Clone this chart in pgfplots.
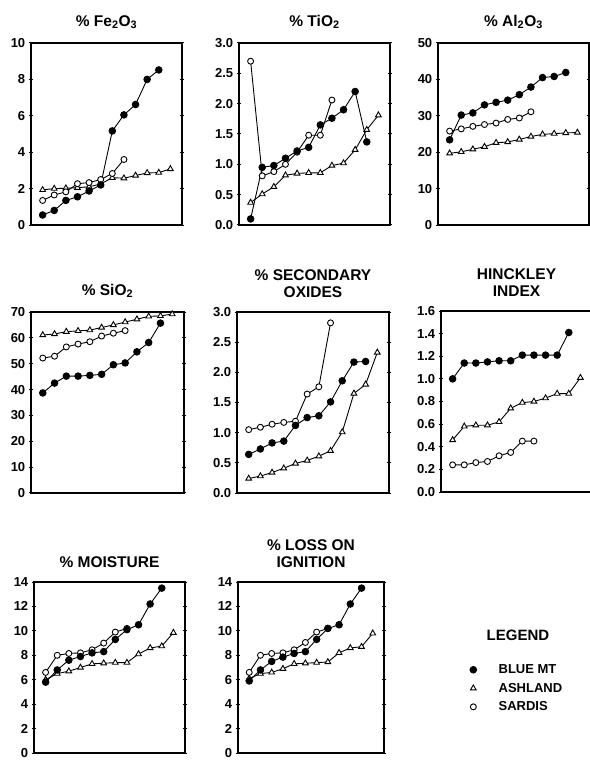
\documentclass[border=0pt]{standalone}
\usepackage{fontspec}
\setmainfont{Liberation Sans}
\usepackage{pgfplots}
\pgfplotsset{compat=1.18}
\pgfplotsset{
  panel/.style={scale only axis, anchor=north west, xmin=0, xmax=13, xtick=\empty, ymin=0,
    axis line style={line width=1.2pt},
    every tick/.style={line width=1pt,black},
    major tick length=4.5pt, tick align=center,
    ytick pos=both, yticklabel pos=left,
    /pgf/number format/assume math mode=true,
    tick label style={font=\bfseries\fontsize{13}{13}\selectfont},
    title style={font=\bfseries\fontsize{15.5}{17.5}\selectfont, align=center, at={(0.5,1)}, anchor=south, inner sep=0pt, yshift=8pt},
    clip=false},
  bm/.style={black, line width=0.9pt, mark=*, mark size=3.3pt, mark options={solid, fill=black}},
  as/.style={black, line width=0.9pt, mark=triangle*, mark size=3.3pt, mark options={solid, fill=white}},
  sa/.style={black, line width=0.9pt, mark=*, mark size=3pt, mark options={solid, fill=white}},
  onedec/.style={yticklabel style={/pgf/number format/fixed,/pgf/number format/fixed zerofill,/pgf/number format/precision=1}},
}
\begin{document}
\begin{tikzpicture}
\path[use as bounding box] (0pt,0pt) rectangle (589pt,-762pt);
% Fe2O3
\begin{axis}[panel, at={(31pt,-43pt)}, width=151pt, height=182pt, ymax=10, ytick={0,2,...,10},
  title={\% Fe\textsubscript{2}O\textsubscript{3}}]
\addplot[as] coordinates {(1,1.93)(2,2.0)(3,2.02)(4,2.05)(5,2.1)(6,2.25)(7,2.6)(8,2.57)(9,2.72)(10,2.86)(11,2.88)(12,3.08)};
\addplot[sa] coordinates {(1,1.35)(2,1.65)(3,1.82)(4,2.27)(5,2.33)(6,2.5)(7,2.83)(8,3.6)};
\addplot[bm] coordinates {(1,0.55)(2,0.8)(3,1.35)(4,1.55)(5,1.87)(6,2.2)(7,5.17)(8,6.05)(9,6.62)(10,8.0)(11,8.52)};
\end{axis}
% TiO2
\begin{axis}[panel, onedec, at={(239pt,-43pt)}, width=151pt, height=182pt, ymax=3, ytick={0,0.5,...,3},
  title={\% TiO\textsubscript{2}}]
\addplot[as] coordinates {(1,0.37)(2,0.51)(3,0.63)(4,0.82)(5,0.85)(6,0.86)(7,0.86)(8,0.98)(9,1.02)(10,1.24)(11,1.57)(12,1.81)};
\addplot[sa] coordinates {(1,2.7)(2,0.81)(3,0.88)(4,1.0)(5,1.2)(6,1.48)(7,1.48)(8,2.06)};
\addplot[bm] coordinates {(1,0.1)(2,0.95)(3,0.98)(4,1.1)(5,1.22)(6,1.28)(7,1.65)(8,1.76)(9,1.9)(10,2.2)(11,1.37)};
\end{axis}
% Al2O3
\begin{axis}[panel, at={(438pt,-43pt)}, width=151pt, height=182pt, ymax=50, ytick={0,10,...,50},
  title={\% Al\textsubscript{2}O\textsubscript{3}}]
\addplot[as] coordinates {(1,19.7)(2,20.1)(3,20.8)(4,21.5)(5,22.6)(6,22.8)(7,23.5)(8,24.3)(9,24.9)(10,25.1)(11,25.3)(12,25.4)};
\addplot[sa] coordinates {(1,25.8)(2,26.4)(3,27.1)(4,27.6)(5,28.0)(6,29.0)(7,29.4)(8,31.1)};
\addplot[bm] coordinates {(1,23.4)(2,30.2)(3,30.8)(4,33.0)(5,33.7)(6,34.3)(7,35.8)(8,37.9)(9,40.5)(10,40.8)(11,41.9)};
\end{axis}
% SiO2
\begin{axis}[panel, at={(31pt,-312pt)}, width=153pt, height=181pt, ymax=70, ytick={0,10,...,70},
  title={\% SiO\textsubscript{2}}]
\addplot[as] coordinates {(1,61.1)(2,61.5)(3,62.4)(4,62.7)(5,63.0)(6,64.0)(7,65.0)(8,66.1)(9,67.2)(10,68.3)(11,68.5)(12,69.2)};
\addplot[sa] coordinates {(1,52.2)(2,52.9)(3,56.5)(4,57.6)(5,58.5)(6,60.7)(7,61.8)(8,62.8)};
\addplot[bm] coordinates {(1,38.7)(2,42.5)(3,45.2)(4,45.2)(5,45.5)(6,45.9)(7,49.6)(8,50.3)(9,54.6)(10,58.2)(11,65.7)};
\end{axis}
% Secondary oxides
\begin{axis}[panel, onedec, at={(237pt,-312pt)}, width=152pt, height=181pt, ymax=3, ytick={0,0.5,...,3},
  title={\% SECONDARY\\OXIDES}]
\addplot[as] coordinates {(1,0.24)(2,0.28)(3,0.34)(4,0.41)(5,0.49)(6,0.54)(7,0.61)(8,0.70)(9,1.01)(10,1.65)(11,1.80)(12,2.33)};
\addplot[sa] coordinates {(1,1.05)(2,1.09)(3,1.14)(4,1.17)(5,1.19)(6,1.64)(7,1.76)(8,2.82)};
\addplot[bm] coordinates {(1,0.64)(2,0.73)(3,0.83)(4,0.86)(5,1.12)(6,1.25)(7,1.28)(8,1.51)(9,1.86)(10,2.17)(11,2.18)};
\end{axis}
% Hinckley
\begin{axis}[panel, onedec, at={(441pt,-311pt)}, width=151pt, height=181pt, ymax=1.6, ytick={0,0.2,...,1.6},
  title={HINCKLEY\\INDEX}]
\addplot[as] coordinates {(1,0.46)(2,0.58)(3,0.59)(4,0.59)(5,0.62)(6,0.74)(7,0.79)(8,0.80)(9,0.83)(10,0.87)(11,0.87)(12,1.01)};
\addplot[sa] coordinates {(1,0.24)(2,0.24)(3,0.26)(4,0.27)(5,0.32)(6,0.35)(7,0.45)(8,0.45)};
\addplot[bm] coordinates {(1,1.0)(2,1.14)(3,1.14)(4,1.15)(5,1.16)(6,1.16)(7,1.21)(8,1.21)(9,1.21)(10,1.21)(11,1.41)};
\end{axis}
% Moisture
\begin{axis}[panel, at={(34pt,-582pt)}, width=151pt, height=171pt, ymax=14, ytick={0,2,...,14},
  title={\% MOISTURE}]
\addplot[as] coordinates {(1,6.0)(2,6.5)(3,6.7)(4,7.0)(5,7.3)(6,7.35)(7,7.4)(8,7.4)(9,8.1)(10,8.6)(11,8.75)(12,9.85)};
\addplot[sa] coordinates {(1,6.6)(2,8.0)(3,8.15)(4,8.2)(5,8.45)(6,9.0)(7,9.9)(8,10.2)};
\addplot[bm] coordinates {(1,5.8)(2,6.8)(3,7.6)(4,7.9)(5,8.2)(6,8.3)(7,9.3)(8,10.1)(9,10.5)(10,12.2)(11,13.5)};
\end{axis}
% LOI
\begin{axis}[panel, at={(238pt,-582pt)}, width=146pt, height=171pt, ymax=14, ytick={0,2,...,14},
  title={\% LOSS ON\\IGNITION}]
\addplot[as] coordinates {(1,6.1)(2,6.5)(3,6.6)(4,6.9)(5,7.3)(6,7.35)(7,7.4)(8,7.45)(9,8.2)(10,8.6)(11,8.7)(12,9.8)};
\addplot[sa] coordinates {(1,6.6)(2,8.0)(3,8.15)(4,8.2)(5,8.45)(6,9.05)(7,9.9)(8,10.2)};
\addplot[bm] coordinates {(1,5.9)(2,6.8)(3,7.5)(4,7.85)(5,8.15)(6,8.3)(7,9.3)(8,10.2)(9,10.5)(10,12.2)(11,13.5)};
\end{axis}
% Legend
\begin{axis}[at={(440pt,-582pt)}, anchor=north west, scale only axis, width=149pt, height=178pt,
  hide axis, xmin=0, xmax=1, ymin=0, ymax=1,
  legend style={at={(0.18,0.56)}, anchor=north west, draw=none, fill=none,
    font=\bfseries\fontsize{13}{13}\selectfont, column sep=20pt, row sep=4pt},
  legend cell align=left]
\addlegendimage{bm, only marks}
\addlegendentry{BLUE MT}
\addlegendimage{as, only marks}
\addlegendentry{ASHLAND}
\addlegendimage{sa, only marks}
\addlegendentry{SARDIS}
\node[font=\bfseries\fontsize{15}{15}\selectfont] at (axis description cs:0.523,0.702) {LEGEND};
\end{axis}
\end{tikzpicture}
\end{document}
